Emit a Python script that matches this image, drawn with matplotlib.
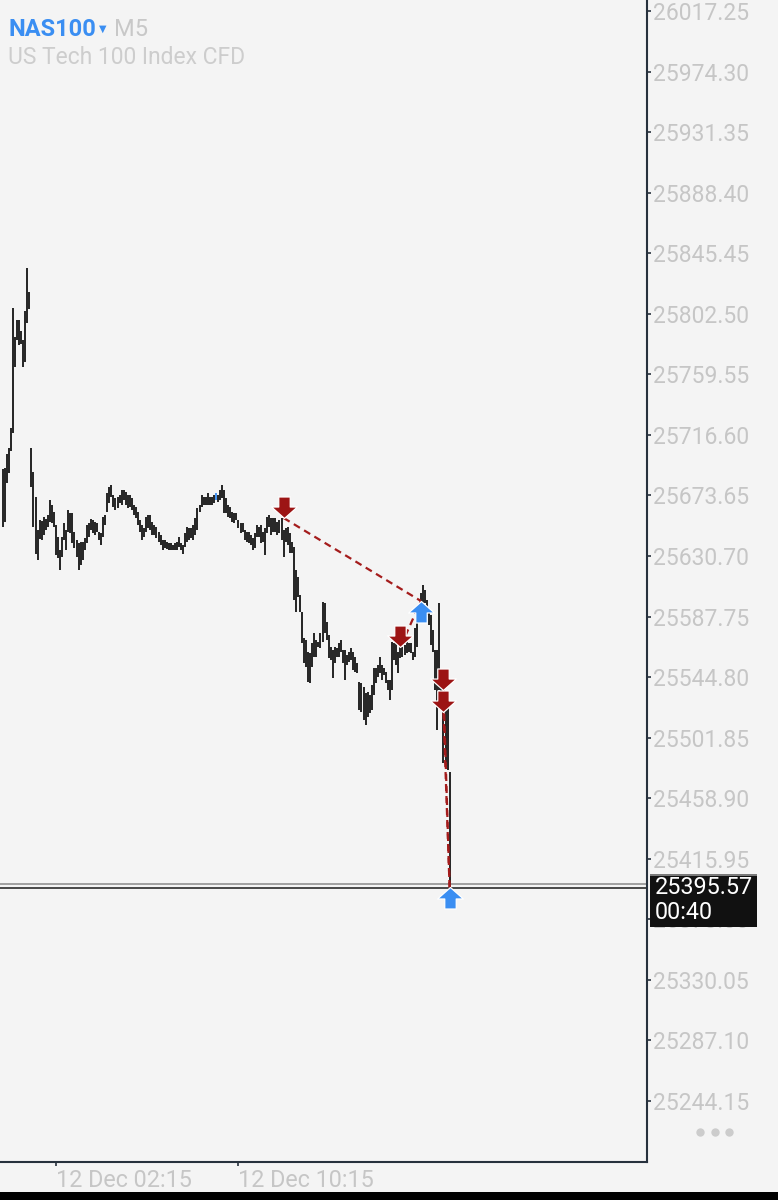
import numpy as np
import matplotlib
matplotlib.use('Agg')
import matplotlib.pyplot as plt
import matplotlib.transforms as mtransforms
from matplotlib.path import Path
from matplotlib.patches import Rectangle
from matplotlib.lines import Line2D

plt.rcParams['font.family'] = ['Roboto', 'DejaVu Sans']

# chart values
symbol = 'NAS100'
timeframe = 'M5'
description = 'US Tech 100 Index CFD'

highs = [
    25692.4, 25693.1, 25703.0, 25707.3, 25721.5, 25806.6, 25786.0, 25798.1, 25798.1, 25790.3,
    25783.9, 25804.5, 25835.0, 25817.9, 25707.3, 25690.3, 25672.5, 25649.1, 25656.2, 25655.5,
    25658.4, 25656.9, 25659.8, 25670.4, 25666.9, 25661.9, 25652.7, 25644.2, 25635.0, 25644.2,
    25654.1, 25649.1, 25663.3, 25661.2, 25661.2, 25647.7, 25642.0, 25639.9, 25640.6, 25640.6,
    25643.5, 25652.7, 25654.1, 25656.9, 25656.2, 25654.8, 25654.1, 25647.7, 25647.0, 25658.4,
    25659.8, 25675.4, 25679.6, 25681.1, 25674.0, 25671.8, 25672.5, 25674.0, 25677.5, 25677.5,
    25676.1, 25674.0, 25674.0, 25671.8, 25666.9, 25665.5, 25661.9, 25656.2, 25652.7, 25650.6,
    25658.4, 25659.8, 25659.8, 25654.8, 25652.7, 25651.3, 25647.7, 25645.6, 25642.0, 25642.0,
    25640.6, 25639.9, 25639.9, 25638.5, 25639.9, 25640.6, 25644.2, 25639.9, 25638.5, 25647.0,
    25651.3, 25650.6, 25650.6, 25652.7, 25657.7, 25664.7, 25666.9, 25674.0, 25672.5, 25672.5,
    25675.4, 25672.5, 25672.5, 25674.0, 25675.4, 25674.0, 25677.5, 25681.1, 25677.5, 25671.8,
    25666.9, 25665.5, 25661.9, 25661.2, 25661.2, 25656.2, 25654.1, 25654.1, 25649.1, 25647.7,
    25647.7, 25645.6, 25643.5, 25647.0, 25652.7, 25651.3, 25652.7, 25647.7, 25650.6, 25658.4,
    25659.8, 25657.7, 25657.7, 25657.7, 25654.8, 25656.2, 25657.7, 25649.1, 25650.6, 25651.3,
    25647.0, 25640.6, 25637.1, 25620.8, 25615.8, 25603.0, 25591.0, 25572.5, 25571.1, 25562.6,
    25561.9, 25569.0, 25576.1, 25571.1, 25569.7, 25576.1, 25598.1, 25597.4, 25583.9, 25574.7,
    25566.2, 25564.0, 25566.2, 25565.4, 25569.0, 25571.1, 25564.0, 25564.0, 25560.5, 25562.6,
    25565.4, 25562.6, 25559.1, 25554.8, 25541.3, 25540.6, 25537.8, 25533.5, 25534.2, 25532.1,
    25539.2, 25551.3, 25551.3, 25553.4, 25559.1, 25553.4, 25551.3, 25548.4, 25542.8, 25542.8,
    25569.7, 25569.0, 25569.7, 25562.6, 25566.2, 25566.2, 25567.6, 25569.7, 25569.0, 25569.0,
    25562.6, 25579.6, 25586.7, 25590.3, 25604.5, 25610.1, 25606.6, 25599.5, 25590.3, 25588.9,
    25578.2, 25564.0, 25564.0, 25597.4, 25544.9, 25534.2, 25521.5, 25523.6, 25477.5,
]
lows = [
    25651.3, 25654.8, 25682.5, 25689.6, 25705.2, 25717.9, 25764.8, 25783.9, 25780.4, 25781.1,
    25764.8, 25768.3, 25796.0, 25805.9, 25679.6, 25651.3, 25632.1, 25627.9, 25642.8, 25642.0,
    25645.6, 25649.1, 25651.3, 25654.8, 25654.1, 25651.3, 25631.4, 25629.3, 25620.8, 25630.0,
    25642.0, 25635.0, 25647.7, 25647.0, 25639.9, 25636.4, 25630.0, 25620.8, 25624.3, 25627.9,
    25635.0, 25639.9, 25644.2, 25649.1, 25647.0, 25645.6, 25647.7, 25642.0, 25638.5, 25644.2,
    25652.7, 25661.9, 25668.3, 25672.5, 25665.5, 25663.3, 25664.7, 25668.3, 25666.9, 25670.4,
    25666.9, 25664.7, 25665.5, 25663.3, 25659.8, 25657.7, 25652.7, 25647.7, 25642.0, 25644.2,
    25647.7, 25650.6, 25649.1, 25645.6, 25645.6, 25643.5, 25640.6, 25638.5, 25635.0, 25636.4,
    25635.7, 25635.0, 25635.0, 25635.0, 25635.0, 25635.0, 25637.1, 25635.0, 25632.1, 25637.1,
    25640.6, 25642.0, 25643.5, 25642.0, 25645.6, 25649.1, 25661.9, 25665.5, 25666.9, 25666.9,
    25666.9, 25666.9, 25666.9, 25668.3, 25670.4, 25669.0, 25670.4, 25671.8, 25661.2, 25661.2,
    25658.4, 25657.7, 25654.8, 25654.1, 25656.2, 25650.6, 25647.0, 25647.7, 25642.0, 25640.6,
    25639.9, 25638.5, 25635.0, 25636.4, 25644.2, 25644.2, 25639.9, 25640.6, 25631.4, 25647.0,
    25651.3, 25645.6, 25647.7, 25647.7, 25645.6, 25647.0, 25642.0, 25630.0, 25640.6, 25638.5,
    25632.8, 25632.8, 25599.5, 25591.0, 25601.6, 25591.0, 25569.0, 25554.8, 25552.0, 25541.3,
    25540.6, 25552.0, 25559.1, 25559.1, 25566.2, 25565.4, 25569.7, 25576.1, 25571.1, 25558.4,
    25556.9, 25544.2, 25554.8, 25559.1, 25559.1, 25562.6, 25554.8, 25542.8, 25553.4, 25555.5,
    25556.9, 25549.8, 25548.4, 25547.7, 25521.5, 25520.1, 25514.4, 25510.8, 25516.5, 25519.3,
    25521.5, 25532.1, 25540.6, 25544.9, 25547.7, 25542.8, 25546.3, 25540.6, 25535.7, 25528.6,
    25535.7, 25556.9, 25553.4, 25547.7, 25558.4, 25559.1, 25560.5, 25561.9, 25562.6, 25561.9,
    25556.9, 25559.1, 25566.2, 25585.3, 25590.3, 25593.8, 25597.4, 25588.9, 25581.8, 25567.6,
    25562.6, 25535.7, 25507.3, 25535.7, 25534.2, 25483.9, 25481.0, 25478.9, 25395.6,
]

price_ticks = [26017.25, 25974.30, 25931.35, 25888.40, 25845.45, 25802.50, 25759.55,
               25716.60, 25673.65, 25630.70, 25587.75, 25544.80, 25501.85, 25458.90,
               25415.95, 25373.00, 25330.05, 25287.10, 25244.15]
time_labels = ['12 Dec 02:15', '12 Dec 10:15']
time_label_bars = [26, 115]

bid = 25395.57
ask = 25398.0
countdown = '00:40'

# trades: sells (red arrows) closed by buys (blue arrows)
sell_bars = [137, 194, 215, 215]
sell_prices = [25657.7, 25566.2, 25535.7, 25520.0]
buy_bars = [204, 218]
buy_prices = [25598.8, 25395.6]
closed_by = [0, 0, 1, 1]

BG = '#f4f4f4'
LABEL = '#c6c6c6'
AXIS = '#27313d'
RED = '#9c1414'
BLUE = '#3a8ef2'

fig = plt.figure(figsize=(7.78, 12), dpi=100, facecolor=BG)
ax = fig.add_axes([0, 38 / 1200, 647 / 778, 1162 / 1200], facecolor=BG)

x = np.arange(len(highs))
bar_colors = [BLUE if i == 104 else '#1c1c1c' for i in x]
ax.vlines(x, lows, highs, colors=bar_colors, lw=1.35, zorder=3)

# bid / ask lines
ax.axhline(ask, color='#8a8a8a', lw=1.1, zorder=2)
ax.axhline(bid, color='#1a1a1a', lw=1.1, zorder=2)

# trade lines
for k, j in enumerate(closed_by):
    ax.plot([sell_bars[k], buy_bars[j]], [sell_prices[k], buy_prices[j]],
            color='#a41c1c', lw=1.6, ls=(0, (3.2, 2.2)), zorder=5)

# block arrows, tip at the deal price
down_arrow = Path([(0, 0), (9, 8), (4, 8), (4, 15), (-4, 15), (-4, 8), (-9, 8), (0, 0)],
                  closed=True)
up_arrow = Path([(0, 0), (9, -8), (4, -8), (4, -15), (-4, -15), (-4, -8), (-9, -8), (0, 0)],
                closed=True)
ax.plot(sell_bars, sell_prices, ls='none', marker=down_arrow, ms=31,
        mfc=RED, mec='white', mew=0.9, zorder=6)
ax.plot(buy_bars, buy_prices, ls='none', marker=up_arrow, ms=31,
        mfc=BLUE, mec='white', mew=0.9, zorder=6, clip_on=False)

ax.set_xlim(-1.317, 314.29)
ax.set_ylim(25200.89, 26025.05)

for s in ['left', 'top']:
    ax.spines[s].set_visible(False)
for s in ['right', 'bottom']:
    ax.spines[s].set_color(AXIS)
    ax.spines[s].set_linewidth(1.5)

ax.yaxis.tick_right()
ax.set_yticks(price_ticks)
ax.set_yticklabels([f'{p:.2f}' for p in price_ticks])
ax.tick_params(axis='y', length=3, width=1.2, color=AXIS, pad=1.5,
               labelsize=16.5, labelcolor=LABEL)
ax.set_xticks(time_label_bars)
ax.set_xticklabels(time_labels, ha='left')
ax.tick_params(axis='x', length=3, width=1.2, color=AXIS, pad=2,
               labelsize=16.8, labelcolor=LABEL)

# current price box
trans = mtransforms.blended_transform_factory(ax.transAxes, ax.transData)
u = (26025.05 - 25200.89) / 1162
ax.add_patch(Rectangle((1.004, bid - 39 * u), 0.166, 52 * u, transform=trans,
                       facecolor='#111111', edgecolor='none', clip_on=False, zorder=10))
ax.add_patch(Rectangle((1.004, bid + 12 * u), 0.166, 2 * u, transform=trans,
                       facecolor='#7a7a7a', edgecolor='none', clip_on=False, zorder=10))
ax.text(1.012, bid, f'{bid:.2f}', transform=trans, color='white', fontsize=16.8,
        va='center', ha='left', zorder=11)
ax.text(1.012, bid - 25 * u, countdown, transform=trans, color='white', fontsize=16.8,
        va='center', ha='left', zorder=11)

# header
fig.text(8 / 778, 1 - 30 / 1200, symbol, fontsize=17, fontweight='bold',
         color=BLUE, va='center', ha='left')
fig.text(99 / 778, 1 - 29 / 1200, '▼', fontsize=7, color=BLUE, va='center', ha='left',
         family='DejaVu Sans')
fig.text(114 / 778, 1 - 30 / 1200, timeframe, fontsize=17, color='#c8c8c8',
         va='center', ha='left')
fig.text(8 / 778, 1 - 58 / 1200, description, fontsize=16.5, color='#cdcdcd',
         va='center', ha='left')

# menu dots
fig.add_artist(Line2D([700 / 778, 715 / 778, 729 / 778], [1 - 1132 / 1200] * 3,
                      ls='none', marker='o', ms=5, color='#cccccc',
                      transform=fig.transFigure))

# black strip at the bottom
fig.add_artist(Rectangle((0, 0), 1, 8 / 1200, transform=fig.transFigure,
                         facecolor='black', edgecolor='none'))

fig.savefig('out.png', dpi=100, facecolor=BG)
